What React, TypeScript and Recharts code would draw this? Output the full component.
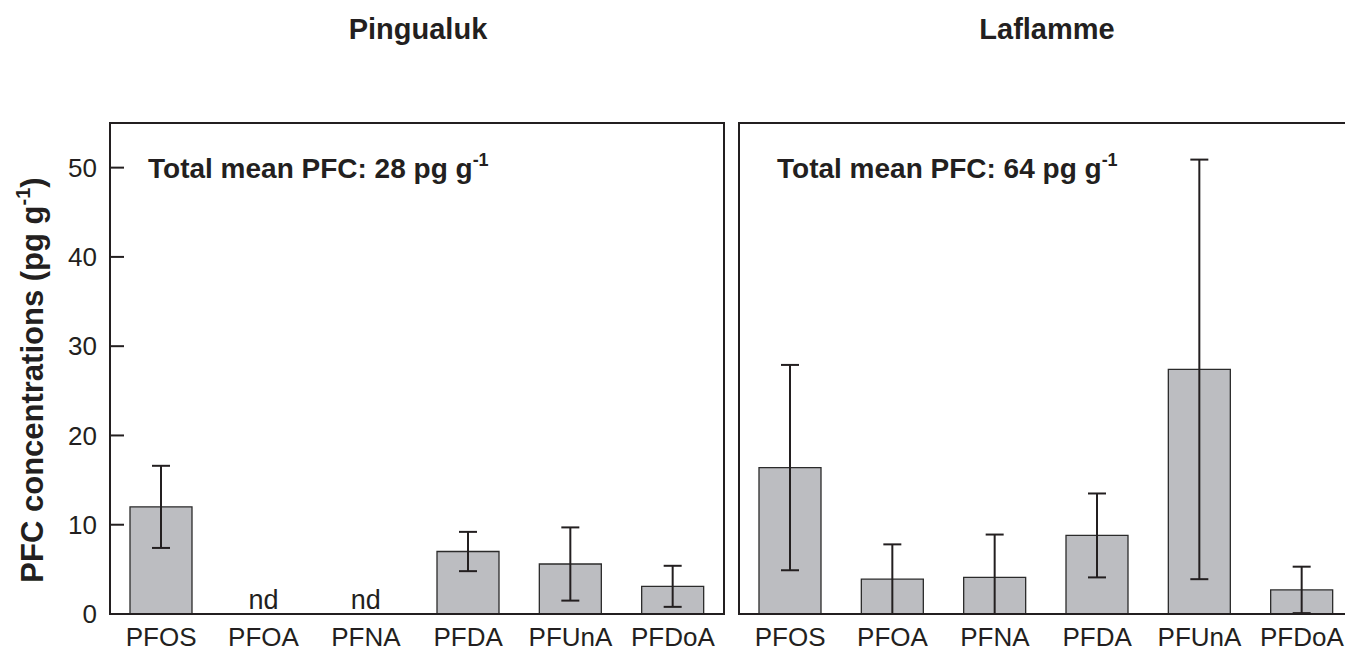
import { Bar, BarChart, ErrorBar, ReferenceArea, ReferenceDot, XAxis, YAxis } from 'recharts';

const categories = ['PFOS', 'PFOA', 'PFNA', 'PFDA', 'PFUnA', 'PFDoA'];
const pingualukMean = [12.0, 0, 0, 7.0, 5.6, 3.1];
const pingualukErr = [4.6, 0, 0, 2.2, 4.1, 2.3];
const pingualukNote = ['', 'nd', 'nd', '', '', ''];
const laflammeMean = [16.4, 3.9, 4.1, 8.8, 27.4, 2.7];
const laflammeErr = [11.5, 3.9, 4.8, 4.7, 23.5, 2.6];
const laflammeNote = ['', '', '', '', '', ''];
const yTicks = [0, 10, 20, 30, 40, 50];

const FONT = '"Liberation Sans", Arial, Helvetica, sans-serif';
const INK = '#231f20';

const build = (mean: number[], err: number[]) =>
  categories.map((name, i) => ({
    name,
    value: mean[i],
    // lower whisker stops at zero
    err: [Math.min(err[i], mean[i]), err[i]],
  }));

const NdLabel = (text: string) => (props: any) => {
  const { viewBox } = props;
  return (
    <text x={viewBox.x} y={viewBox.y - 5} textAnchor="middle" fontFamily={FONT} fontSize={27} fill={INK}>
      {text}
    </text>
  );
};

const Panel = ({ data, notes, showLabels, left }: { data: any[]; notes: string[]; showLabels: boolean; left: number }) => (
  <div style={{ position: 'absolute', left, top: 0 }}>
    <BarChart width={740} height={653} data={data} margin={{ top: 123, right: 16, bottom: 0, left: 60 }} barCategoryGap={0}>
      <XAxis
        dataKey="name"
        height={39}
        tickLine={false}
        tickSize={0}
        tickMargin={14}
        axisLine={{ stroke: INK, strokeWidth: 2 }}
        tick={{ fill: INK, fontSize: 26, fontFamily: FONT }}
        interval={0}
      />
      <YAxis
        width={50}
        domain={[0, 55]}
        ticks={yTicks}
        tickSize={-14}
        tickMargin={27}
        tickLine={{ stroke: INK, strokeWidth: 2 }}
        axisLine={{ stroke: INK, strokeWidth: 2 }}
        tick={showLabels ? { fill: INK, fontSize: 26, fontFamily: FONT } : false}
        interval={0}
      />
      <ReferenceArea y1={0} y2={55} fill="none" stroke={INK} strokeWidth={2} ifOverflow="visible" />
      <Bar dataKey="value" fill="#bcbdc1" stroke="#2b2b2b" strokeWidth={1.3} barSize={62} isAnimationActive={false}>
        <ErrorBar dataKey="err" width={9} stroke={INK} strokeWidth={2} direction="y" />
      </Bar>
      {notes.map((n, i) =>
        n ? <ReferenceDot key={i} x={categories[i]} y={0} r={0} stroke="none" fill="none" label={NdLabel(n)} /> : null,
      )}
    </BarChart>
  </div>
);

export default function App() {
  return (
    <div style={{ position: 'fixed', left: 0, top: 0, width: 1345, height: 653, overflow: 'hidden', background: '#fff' }}>
      <Panel data={build(pingualukMean, pingualukErr)} notes={pingualukNote} showLabels left={0} />
      <Panel data={build(laflammeMean, laflammeErr)} notes={laflammeNote} showLabels={false} left={629} />
      <svg width={1345} height={653} style={{ position: 'absolute', left: 0, top: 0, pointerEvents: 'none' }}>
        <g fontFamily={FONT} fontWeight="bold" fill={INK}>
          <text x={418} y={39} fontSize={29} textAnchor="middle">Pingualuk</text>
          <text x={1047} y={39} fontSize={29} textAnchor="middle">Laflamme</text>
          <text x={148} y={178} fontSize={28}>
            Total mean PFC: 28 pg g<tspan fontSize={18} dy={-12}>-1</tspan>
          </text>
          <text x={777} y={178} fontSize={28}>
            Total mean PFC: 64 pg g<tspan fontSize={18} dy={-12}>-1</tspan>
          </text>
          <text transform="translate(43,380) rotate(-90)" fontSize={31} textAnchor="middle">
            PFC concentrations (pg g<tspan fontSize={20} dy={-13}>-1</tspan>
            <tspan dy={13}>)</tspan>
          </text>
        </g>
      </svg>
    </div>
  );
}
